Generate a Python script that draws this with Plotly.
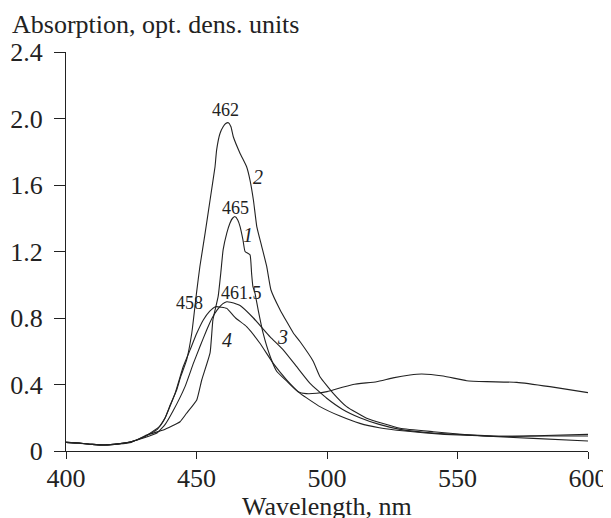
import plotly.graph_objects as go

# ---- data ----
wl_1 = [400, 405, 410, 415, 420, 425, 430.9, 437.3, 443.7, 446.2, 450.1, 452.0, 455.2, 456.3, 458.3, 459.3,
        460.2, 461.6, 462.8, 463.8, 464.8, 465.8, 466.7, 467.8, 468.6, 470.5, 471.1, 471.6, 472.4, 473.6,
        475.5, 478.2, 480.7, 484.6, 488.9, 492.0, 496.0, 500.0, 502.3, 510.0, 519.0, 525.3, 531.8, 536.3,
        544.5, 553.5, 561.2, 572.7, 585.4, 600]
abs_1 = [0.052, 0.047, 0.040, 0.037, 0.042, 0.052, 0.096, 0.126, 0.176, 0.227, 0.307, 0.427, 0.59, 0.79,
         0.93, 1.07, 1.21, 1.31, 1.37, 1.40, 1.41, 1.39, 1.35, 1.27, 1.20, 1.18, 1.07, 0.99, 0.95, 0.85,
         0.71, 0.57, 0.48, 0.42, 0.357, 0.345, 0.347, 0.357, 0.367, 0.40, 0.417, 0.44, 0.457, 0.463, 0.451,
         0.423, 0.417, 0.413, 0.387, 0.351]

wl_2 = [400, 405, 410, 415, 420, 425, 430, 436, 438, 440, 442.4, 444.0, 446.2, 448.2, 450.0, 451.3, 453.3,
        455.2, 457.1, 457.7, 459.0, 460.2, 461.2, 462.2, 463.2, 464.1, 466.7, 469.2, 470.5, 471.8, 473.1,
        475.0, 476.9, 478.5, 482.0, 487.1, 489.7, 494.7, 497.3, 502.4, 507.5, 515.2, 528.0, 540.7, 559.9,
        579.0, 600]
abs_2 = [0.052, 0.048, 0.040, 0.036, 0.043, 0.056, 0.085, 0.15, 0.20, 0.28, 0.367, 0.45, 0.547, 0.71,
         0.95, 1.11, 1.31, 1.51, 1.71, 1.81, 1.91, 1.95, 1.97, 1.975, 1.95, 1.89, 1.79, 1.71, 1.63, 1.51,
         1.35, 1.23, 1.11, 0.97, 0.85, 0.71, 0.657, 0.54, 0.447, 0.347, 0.267, 0.197, 0.137, 0.116, 0.09,
         0.076, 0.06]

wl_3 = [400, 405, 410, 415, 420, 425, 430, 435, 438, 441, 445.6, 448.8, 451.3, 453.9, 456, 458, 460, 461.6,
        463, 466.7, 471.8, 478.2, 483.3, 488.4, 493.5, 499.9, 506, 512.6, 520, 528, 540.7, 566.3, 580, 600]
abs_3 = [0.052, 0.048, 0.040, 0.036, 0.043, 0.056, 0.08, 0.11, 0.16, 0.24, 0.387, 0.527, 0.627, 0.728,
         0.80, 0.85, 0.885, 0.898, 0.895, 0.875, 0.80, 0.687, 0.607, 0.507, 0.407, 0.317, 0.25, 0.20,
         0.16, 0.13, 0.108, 0.088, 0.092, 0.10]

wl_4 = [400, 405, 410, 415, 420, 425, 430, 435, 438, 441.8, 444.9, 447.5, 450.1, 452.6, 455, 457.3, 459.5,
        461.6, 465, 469.2, 474.3, 479.4, 484.6, 489.7, 497.3, 505, 512.6, 520, 530, 545, 566, 585, 600]
abs_4 = [0.052, 0.048, 0.040, 0.036, 0.043, 0.056, 0.085, 0.13, 0.20, 0.347, 0.507, 0.607, 0.708, 0.788,
         0.84, 0.868, 0.865, 0.858, 0.80, 0.748, 0.648, 0.527, 0.427, 0.347, 0.267, 0.21, 0.166, 0.14,
         0.12, 0.10, 0.088, 0.09, 0.09]

peak_text = ["462", "465", "458", "461.5"]
peak_x = [461.3, 465.1, 447.5, 467.3]
peak_y = [2.05, 1.46, 0.89, 0.95]

curve_text = ["2", "1", "3", "4"]
curve_x = [473.6, 469.7, 483.1, 461.7]
curve_y = [1.65, 1.30, 0.686, 0.668]

y_ticks = [0, 0.4, 0.8, 1.2, 1.6, 2.0, 2.4]
y_tick_text = ["0", "0.4", "0.8", "1.2", "1.6", "2.0", "2.4"]
x_ticks = [400, 450, 500, 550, 600]

FONT = "Liberation Serif"
INK = "#222222"

fig = go.Figure()
for wx, ay in [(wl_1, abs_1), (wl_2, abs_2), (wl_3, abs_3), (wl_4, abs_4)]:
    fig.add_trace(go.Scatter(x=wx, y=ay, mode="lines", line_shape="spline",
                             line=dict(color=INK, width=1.1, smoothing=0.4),
                             showlegend=False, hoverinfo="skip"))

for t, x, y in zip(peak_text, peak_x, peak_y):
    fig.add_annotation(x=x, y=y, text=t, showarrow=False, font=dict(family=FONT, size=18, color=INK))
for t, x, y in zip(curve_text, curve_x, curve_y):
    fig.add_annotation(x=x, y=y, text="<i>" + t + "</i>", showarrow=False,
                       font=dict(family=FONT, size=20, color=INK))

fig.add_annotation(xref="paper", yref="paper", x=-0.108, y=1.07, xanchor="left", yanchor="middle",
                   text="Absorption, opt. dens. units", showarrow=False,
                   font=dict(family=FONT, size=26, color=INK))
fig.add_annotation(xref="paper", yref="paper", x=0.5, y=-0.138, xanchor="center", yanchor="middle",
                   text="Wavelength, nm", showarrow=False,
                   font=dict(family=FONT, size=26, color=INK))

# the page body adds an 8 px offset; margins are shifted to compensate
fig.update_layout(
    width=611, height=518, autosize=False,
    margin=dict(l=58, r=31, t=44, b=75),
    paper_bgcolor="white", plot_bgcolor="white",
    font=dict(family=FONT, size=26, color=INK),
)
fig.update_xaxes(range=[400, 600], tickvals=x_ticks, showgrid=False, zeroline=False, automargin=False,
                 showline=True, linecolor=INK, linewidth=1, ticks="outside", ticklen=7,
                 tickcolor=INK, tickwidth=1, ticklabelstandoff=-3)
fig.update_yaxes(range=[0, 2.4], tickvals=y_ticks, ticktext=y_tick_text, showgrid=False, zeroline=False,
                 automargin=False, showline=True, linecolor=INK, linewidth=1, ticks="outside", ticklen=11,
                 tickcolor=INK, tickwidth=1, ticklabelstandoff=6)

fig.write_html("out.html")
